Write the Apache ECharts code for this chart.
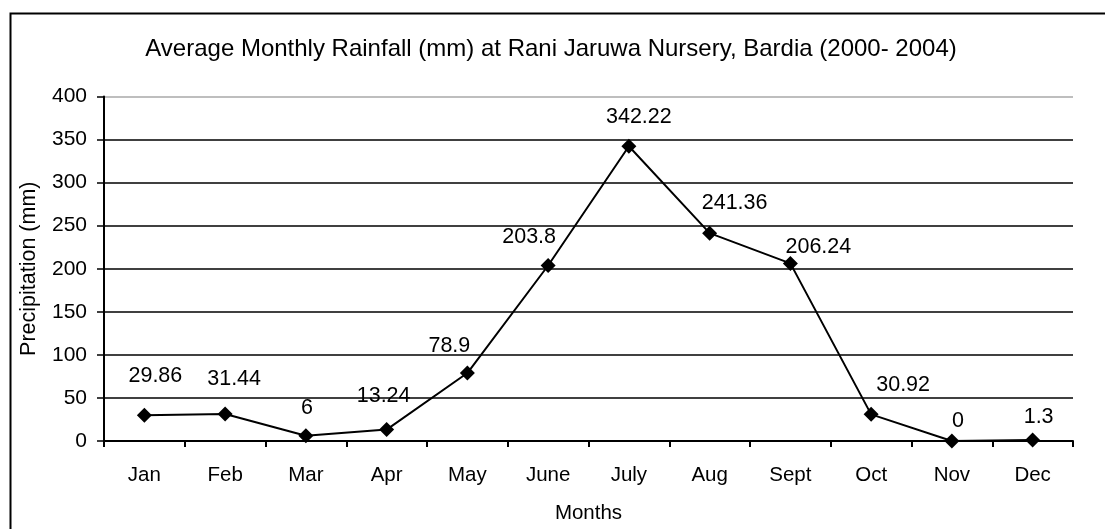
<!DOCTYPE html>
<html>
<head>
<meta charset="utf-8">
<script src="https://cdn.jsdelivr.net/npm/echarts@6/dist/echarts.min.js"></script>
<style>
  html, body { margin: 0; padding: 0; background: #fff; }
  #chart { width: 1105px; height: 529px; }
</style>
</head>
<body>
<div id="chart"></div>
<script>
// Monthly rainfall averages, 2000-2004
const months = ['Jan', 'Feb', 'Mar', 'Apr', 'May', 'June', 'July', 'Aug', 'Sept', 'Oct', 'Nov', 'Dec'];
const rainfall = [29.86, 31.44, 6, 13.24, 78.9, 203.8, 342.22, 241.36, 206.24, 30.92, 0, 1.3];
const yTicks = [0, 50, 100, 150, 200, 250, 300, 350, 400];

// Hand-placed label nudges (pixels from each marker)
const labelNudge = [
  [11, -39], [9, -35], [1, -28], [-3, -34], [-18, -27], [-19, -28],
  [10, -29], [25, -30], [28, -16], [32, -29], [6, -20], [6, -23]
];

const FONT = '"Liberation Sans", Arial, sans-serif';

const chart = echarts.init(document.getElementById('chart'), null, { renderer: 'canvas' });

// top gridline (400) is drawn light grey, the rest black
const gridColors = yTicks.map((v, i) => (i === yTicks.length - 1 ? '#a8a8a8' : '#000'));

chart.setOption({
  animation: false,
  backgroundColor: '#fff',
  textStyle: { fontFamily: FONT, color: '#000' },
  title: {
    text: 'Average Monthly Rainfall (mm) at Rani Jaruwa Nursery, Bardia (2000- 2004)',
    left: 546, top: 32, textAlign: 'center',
    textStyle: { fontFamily: FONT, fontSize: 24, fontWeight: 'normal', color: '#000' }
  },
  graphic: [{
    type: 'rect', left: 8, top: 11, silent: true,
    shape: { width: 1200, height: 600 },
    style: { fill: 'none', stroke: '#000', lineWidth: 2 }
  }],
  grid: { left: 104, right: 32, top: 96.5, bottom: 87, containLabel: false },
  xAxis: {
    type: 'category',
    data: months,
    name: 'Months',
    nameLocation: 'middle',
    nameGap: 62,
    nameTextStyle: { fontFamily: FONT, fontSize: 20.5, color: '#000' },
    axisLine: { lineStyle: { color: '#000', width: 2 } },
    axisTick: { show: true, length: 6, interval: 0, lineStyle: { color: '#000', width: 2 } },
    axisLabel: { interval: 0, margin: 24, fontFamily: FONT, fontSize: 20.5, color: '#000' },
    splitLine: { show: false }
  },
  yAxis: {
    type: 'value',
    min: 0, max: 400, interval: 50,
    name: 'Precipitation (mm)',
    nameLocation: 'middle',
    nameGap: 64,
    nameTextStyle: { fontFamily: FONT, fontSize: 21.5, color: '#000' },
    axisLine: { show: true, lineStyle: { color: '#000', width: 2 } },
    axisTick: { show: true, length: 7, lineStyle: { color: '#000', width: 1.5 } },
    axisLabel: { margin: 17, fontFamily: FONT, fontSize: 21, color: '#000' },
    splitLine: { show: true, lineStyle: { color: gridColors, width: 1.5 } }
  },
  series: [{
    type: 'line',
    data: rainfall.map((v, i) => ({
      value: v,
      label: { offset: labelNudge[i] }
    })),
    symbol: 'diamond',
    symbolSize: 15,
    showAllSymbol: true,
    lineStyle: { color: '#000', width: 2 },
    itemStyle: { color: '#000' },
    label: {
      show: true,
      position: 'inside',
      fontFamily: FONT, fontSize: 21.5, color: '#000'
    },
    z: 5
  }]
});
</script>
</body>
</html>
